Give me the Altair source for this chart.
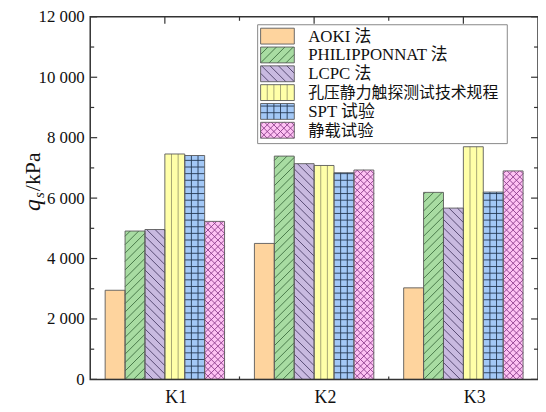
import altair as alt
import pandas as pd
import math

# ---------------- data ----------------
categories = ["K1", "K2", "K3"]
methods = ["AOKI 法", "PHILIPPONNAT 法", "LCPC 法", "孔压静力触探测试技术规程", "SPT 试验", "静载试验"]
aoki = [2950, 4500, 3030]
philipponnat = [4910, 7390, 6190]
lcpc = [4960, 7140, 5670]
cptu_code = [7460, 7080, 7700]
spt = [7410, 6840, 6200]
load_test = [5230, 6930, 6900]
y_tick_values = [0, 2000, 4000, 6000, 8000, 10000, 12000]

series_values = [aoki, philipponnat, lcpc, cptu_code, spt, load_test]

# ---------------- styles ----------------
fills = ["#FED49E", "#A8DCA2", "#C9BAE0", "#FFFFA8", "#A3C8F6", "#FEC2F3"]
hatch_kind = ["none", "fwd", "back", "vert", "grid", "cross"]
hatch_color = ["#000000", "#3E6E40", "#4A3E66", "#9C9C6E", "#243852", "#8A3C8A"]
hatch_space = [0, 8.5, 8.5, 6.7, 6.7, 6.7]
legend_font_size = [17, 17, 17, 16, 17, 16.5]
SERIF = "Liberation Serif, Noto Sans CJK SC"

W, H = 452, 366
X_MIN, X_MAX = 0.5, 3.5
Y_MAX = 12000
GROUP_W = 0.8


def px_x(u):
    return (u - X_MIN) / (X_MAX - X_MIN) * W


def dat_x(px):
    return X_MIN + px / W * (X_MAX - X_MIN)


def px_y(v):  # pixels up from the bottom
    return v / Y_MAX * H


def dat_y(py):
    return py / H * Y_MAX


def hatch(x0, x1, y0, y1, kind, s, col):
    X0, X1, Y0, Y1 = px_x(x0), px_x(x1), px_y(y0), px_y(y1)
    w, h = X1 - X0, Y1 - Y0
    segs = []
    if kind in ("vert", "grid"):
        k = 1
        while k * s < w - 0.8:
            segs.append((k * s, 0, k * s, h))
            k += 1
    if kind == "grid":
        k = 1
        while k * s < h - 0.8:
            segs.append((0, k * s, w, k * s))
            k += 1
    if kind in ("fwd", "cross"):
        for k in range(math.floor(-w / s) + 1, math.ceil(h / s)):
            c = k * s
            xa, xb = max(0, -c), min(w, h - c)
            if xb - xa > 0.3:
                segs.append((xa, xa + c, xb, xb + c))
    if kind in ("back", "cross"):
        for k in range(1, math.ceil((w + h) / s)):
            c = k * s
            xa, xb = max(0, c - h), min(w, c)
            if xb - xa > 0.3:
                segs.append((xa, c - xa, xb, c - xb))
    rows = []
    for a, b, c2, d in segs:
        rows.append({"x0": dat_x(X0 + a), "y0": dat_y(Y0 + b),
                     "x1": dat_x(X0 + c2), "y1": dat_y(Y0 + d), "col": col})
    return rows


# bars
bar_rows, hatch_rows = [], []
n = len(methods)
bw = GROUP_W / n
for gi, cat in enumerate(categories):
    center = gi + 1
    for si in range(n):
        x0 = center - GROUP_W / 2 + si * bw
        x1 = x0 + bw
        v = series_values[si][gi]
        bar_rows.append({"x0": x0, "x1": x1, "y0": 0, "y1": v, "fill": fills[si],
                         "cat": cat, "method": methods[si]})
        if hatch_kind[si] != "none":
            hatch_rows += hatch(x0, x1, 0, v, hatch_kind[si], hatch_space[si], hatch_color[si])

# legend (layout in plot pixels, converted to data space)
LEG_BOX = (169, 421, 8, 128)  # left, right, top, bottom
SW_X = (172, 206)
ROW0, PITCH, SW_H = 11.5, 19, 16
TXT_X = 220
legend_box = [{"x0": dat_x(LEG_BOX[0]), "x1": dat_x(LEG_BOX[1]),
               "y0": dat_y(H - LEG_BOX[3]), "y1": dat_y(H - LEG_BOX[2])}]
leg_rows, leg_text = [], []
for si, m in enumerate(methods):
    t = ROW0 + si * PITCH
    x0, x1 = dat_x(SW_X[0]), dat_x(SW_X[1])
    y1, y0 = dat_y(H - t), dat_y(H - t - SW_H)
    leg_rows.append({"x0": x0, "x1": x1, "y0": y0, "y1": y1, "fill": fills[si]})
    if hatch_kind[si] != "none":
        hatch_rows += hatch(x0, x1, y0, y1, hatch_kind[si], hatch_space[si], hatch_color[si])
    leg_text.append({"x0": dat_x(TXT_X), "y0": dat_y(H - t - SW_H / 2 - 0.5), "label": m,
                     "fs": legend_font_size[si]})

# tick marks (inward)
ytick_major = [{"y0": v} for v in y_tick_values]
ytick_minor = [{"y0": v + 1000} for v in y_tick_values[:-1]]
xtick_major = [{"x0": float(i + 1)} for i in range(len(categories))]
xtick_minor = [{"x0": i + 1.5} for i in range(len(categories) - 1)]

# ---------------- encodings ----------------
xscale = alt.Scale(domain=[X_MIN, X_MAX], nice=False, zero=False)
yscale = alt.Scale(domain=[0, Y_MAX], nice=False)
xaxis = alt.Axis(values=[1, 2, 3], labelExpr="'K' + datum.value", title=None, ticks=False,
                 domain=False, grid=False, labelFont=SERIF, labelFontSize=18, labelColor="#111",
                 labelPadding=9, labelOffset=11)
yaxis = alt.Axis(values=y_tick_values, labelExpr="replace(format(datum.value, ','), ',', ' ')",
                 title=None, ticks=False, domain=False, grid=False, labelFont=SERIF,
                 labelFontSize=17, labelColor="#111", labelPadding=6)
X = alt.X("x0:Q", scale=xscale, axis=xaxis)
Y = alt.Y("y0:Q", scale=yscale, axis=yaxis)
X2 = alt.X2("x1:Q")
Y2 = alt.Y2("y1:Q")

TICK = "#333333"
layers = []
# ticks first so bars hide the ones at the group centres
for data, ln in ((ytick_major, 7), (ytick_minor, 4)):
    d = pd.DataFrame(data)
    layers.append(alt.Chart(d).mark_rule(color=TICK, strokeWidth=1.2).encode(
        y=Y, x=alt.value(0), x2=alt.value(ln)))
    layers.append(alt.Chart(d).mark_rule(color=TICK, strokeWidth=1.2).encode(
        y=Y, x=alt.value(W), x2=alt.value(W - ln)))
for data, ln in ((xtick_major, 7), (xtick_minor, 4)):
    d = pd.DataFrame(data)
    layers.append(alt.Chart(d).mark_rule(color=TICK, strokeWidth=1.2).encode(
        x=X, y=alt.value(0), y2=alt.value(ln)))
    layers.append(alt.Chart(d).mark_rule(color=TICK, strokeWidth=1.2).encode(
        x=X, y=alt.value(H), y2=alt.value(H - 3)))

bars_df = pd.DataFrame(bar_rows)
leg_df = pd.DataFrame(leg_rows)
hatch_df = pd.DataFrame(hatch_rows)

layers.append(alt.Chart(pd.DataFrame(legend_box)).mark_rect(
    fill="white", stroke="#888888", strokeWidth=1).encode(x=X, x2=X2, y=Y, y2=Y2))
for d in (bars_df, leg_df):
    layers.append(alt.Chart(d).mark_rect().encode(
        x=X, x2=X2, y=Y, y2=Y2, fill=alt.Fill("fill:N", scale=None)))
layers.append(alt.Chart(hatch_df).mark_rule(strokeWidth=0.9).encode(
    x=X, x2=X2, y=Y, y2=Y2, color=alt.Color("col:N", scale=None)))
for d in (bars_df, leg_df):
    layers.append(alt.Chart(d).mark_rect(fillOpacity=0, stroke="#5a5a5a", strokeWidth=0.9).encode(
        x=X, x2=X2, y=Y, y2=Y2))
layers.append(alt.Chart(pd.DataFrame(leg_text)).mark_text(
    align="left", baseline="middle", font=SERIF, color="#111").encode(
    x=X, y=Y, text="label:N", size=alt.Size("fs:Q", scale=None)))

# frame
one = pd.DataFrame({"a": [0]})
layers.append(alt.Chart(one).mark_rect(fillOpacity=0, stroke="#333333", strokeWidth=1.5).encode(
    x=alt.value(0), x2=alt.value(W), y=alt.value(0), y2=alt.value(H)))

# y title: q_s/kPa
layers.append(alt.Chart(one).mark_text(angle=270, align="left", baseline="alphabetic", font=SERIF,
                                       fontStyle="italic", fontSize=24, color="#111").encode(
    x=alt.value(-51), y=alt.value(196), text=alt.value("q")))
layers.append(alt.Chart(one).mark_text(angle=270, align="left", baseline="alphabetic", font=SERIF,
                                       fontStyle="italic", fontSize=15, color="#111").encode(
    x=alt.value(-47), y=alt.value(183), text=alt.value("s")))
layers.append(alt.Chart(one).mark_text(angle=270, align="left", baseline="alphabetic", font=SERIF,
                                       fontSize=22, color="#111").encode(
    x=alt.value(-51), y=alt.value(176), text=alt.value("/kPa")))

chart = alt.layer(*layers).properties(
    width=W, height=H,
    padding={"left": 83, "top": 7, "right": 0, "bottom": 30},
    autosize=alt.AutoSizeParams(type="none"),
).configure_view(stroke=None)

chart.save("out.html", embed_options={"renderer": "svg", "actions": False})
